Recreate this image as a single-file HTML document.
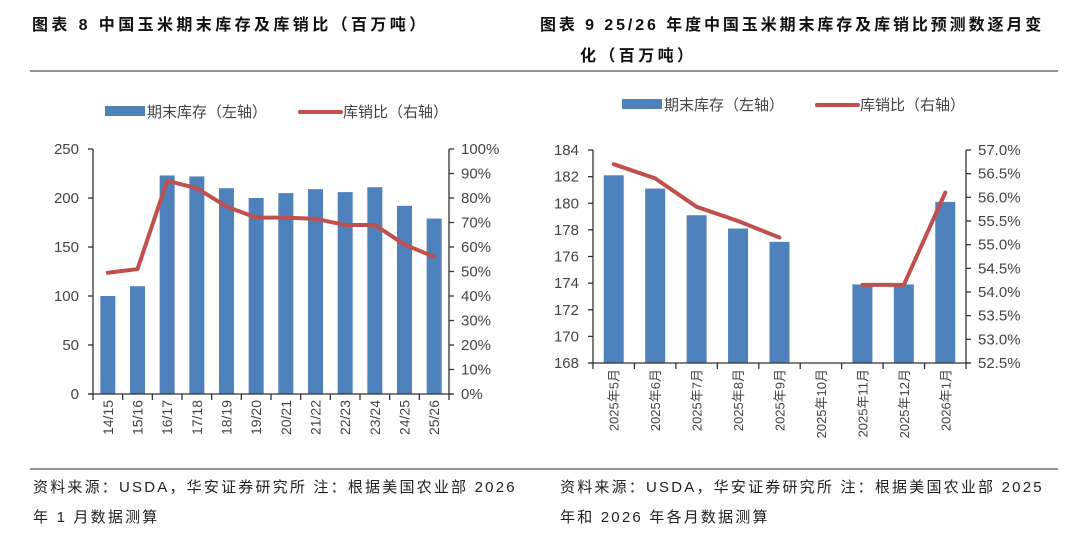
<!DOCTYPE html>
<html><head><meta charset="utf-8"><style>
body{margin:0;background:#fff;}
svg text{font-family:"Liberation Sans","Noto Sans CJK SC",sans-serif;}
</style></head><body>
<svg id="s" width="1080" height="535" xmlns="http://www.w3.org/2000/svg">
<text x="32" y="30" font-size="16" font-weight="bold" fill="#111" letter-spacing="3.4">图表 8 中国玉米期末库存及库销比（百万吨）</text>
<text x="540" y="30" font-size="16" font-weight="bold" fill="#111" letter-spacing="2.9">图表 9 25/26 年度中国玉米期末库存及库销比预测数逐月变</text>
<text x="580" y="61" font-size="16" font-weight="bold" fill="#111" letter-spacing="3.4">化（百万吨）</text>
<line x1="30" y1="71" x2="1058" y2="71" stroke="#555" stroke-width="1.2"/>
<line x1="30" y1="469" x2="1058" y2="469" stroke="#555" stroke-width="1.2"/>
<text x="33" y="492" font-size="15" fill="#222" letter-spacing="2.2">资料来源：USDA，华安证券研究所 注：根据美国农业部 2026</text>
<text x="33" y="522" font-size="15" fill="#222" letter-spacing="2.2">年 1 月数据测算</text>
<text x="560" y="492" font-size="15" fill="#222" letter-spacing="2.2">资料来源：USDA，华安证券研究所 注：根据美国农业部 2025</text>
<text x="560" y="522" font-size="15" fill="#222" letter-spacing="2.2">年和 2026 年各月数据测算</text>
<g id="L"></g><g id="R"></g>
</svg>
<script>
const leftCats=["14/15","15/16","16/17","17/18","18/19","19/20","20/21","21/22","22/23","23/24","24/25","25/26"];
const leftStock=[100,110,223,222,210,200,205,209,206,211,192,179];
const leftRatio=[49.5,51,87,84,76.5,72,72,71.5,69,69,61,56];
const leftTicks=[0,50,100,150,200,250];
const leftRTicks=[0,10,20,30,40,50,60,70,80,90,100];
const rightCats=["2025年5月","2025年6月","2025年7月","2025年8月","2025年9月","2025年10月","2025年11月","2025年12月","2026年1月"];
const rightStock=[182.1,181.1,179.1,178.1,177.1,null,173.9,173.9,180.1];
const rightRatio=[56.7,56.4,55.8,55.5,55.15,null,54.15,54.15,56.1];
const rightTicks=[168,170,172,174,176,178,180,182,184];
const rightRTicks=[52.5,53,53.5,54,54.5,55,55.5,56,56.5,57];
const NS="http://www.w3.org/2000/svg";
function mk(p,t,a){const e=document.createElementNS(NS,t);for(const k in a)e.setAttribute(k,a[k]);p.appendChild(e);return e;}
function chart(g,o){
 const {x0,x1,y0,y1,cats,stock,ratio,lmin,lmax,rmin,rmax,lt,rt,bw,fmtL,fmtR,lblFs,legY,legX}=o;
 const band=(x1-x0)/cats.length;
 const X=i=>x0+band*(i+0.5);
 const YL=v=>y0-(v-lmin)/(lmax-lmin)*(y0-y1);
 const YR=v=>y0-(v-rmin)/(rmax-rmin)*(y0-y1);
 stock.forEach((v,i)=>{if(v==null)return;
  const r=mk(g,'rect',{x:X(i)-bw/2,y:YL(v),width:bw,height:y0-YL(v),fill:'#4f81bd'});
  
  });
 let segs=[],cur=[];
 ratio.forEach((v,i)=>{if(v==null){if(cur.length)segs.push(cur);cur=[];}else cur.push(X(i)+','+YR(v));});
 if(cur.length)segs.push(cur);
 segs.forEach(s=>{const p=mk(g,'polyline',{points:s.join(' '),fill:'none',stroke:'#c0504d','stroke-width':4,'stroke-linejoin':'round','stroke-linecap':'round'});
  
  });
 const ax=mk(g,'g',{stroke:'#333','stroke-width':1.3});
 
 
 mk(ax,'line',{x1:x0,y1:y1,x2:x0,y2:y0});mk(ax,'line',{x1:x1,y1:y1,x2:x1,y2:y0});mk(ax,'line',{x1:x0-4,y1:y0,x2:x1+4,y2:y0});
 lt.forEach(v=>{mk(ax,'line',{x1:x0-5,y1:YL(v),x2:x0,y2:YL(v)});
  const t=mk(g,'text',{x:x0-14,y:YL(v)+5,'font-size':15,fill:'#444','text-anchor':'end'});t.textContent=fmtL(v);
  
  });
 rt.forEach(v=>{mk(ax,'line',{x1:x1,y1:YR(v),x2:x1+5,y2:YR(v)});
  const t=mk(g,'text',{x:x1+12,y:YR(v)+5,'font-size':15,fill:'#444'});t.textContent=fmtR(v);
  
  });
 for(let i=0;i<=cats.length;i++)mk(ax,'line',{x1:x0+band*i,y1:y0,x2:x0+band*i,y2:y0+6});
 cats.forEach((c,i)=>{const t=mk(g,'text',{transform:`translate(${X(i)+5},${y0+6}) rotate(-90)`,'font-size':lblFs,fill:'#444','text-anchor':'end'});t.textContent=c;
  
  });
 const lg=mk(g,'g',{});
 
 
 mk(lg,'rect',{x:legX,y:legY-6,width:40,height:10,fill:'#4f81bd'});
 const a=mk(lg,'text',{x:legX+42,y:legY+5,'font-size':15,fill:'#444'});a.textContent='期末库存（左轴）';
 mk(lg,'line',{x1:legX+195,y1:legY,x2:legX+236,y2:legY,stroke:'#c0504d','stroke-width':4,'stroke-linecap':'round'});
 const b=mk(lg,'text',{x:legX+238,y:legY+5,'font-size':15,fill:'#444'});b.textContent='库销比（右轴）';
}
chart(document.getElementById('L'),{x0:93,x1:449,y0:394,y1:149,cats:leftCats,stock:leftStock,ratio:leftRatio,lmin:0,lmax:250,rmin:0,rmax:100,lt:leftTicks,rt:leftRTicks,bw:15,fmtL:v=>v,fmtR:v=>v+'%',lblFs:14,legY:112,legX:105});
chart(document.getElementById('R'),{x0:593,x1:966,y0:363,y1:150,cats:rightCats,stock:rightStock,ratio:rightRatio,lmin:168,lmax:184,rmin:52.5,rmax:57,lt:rightTicks,rt:rightRTicks,bw:20,fmtL:v=>v,fmtR:v=>v.toFixed(1)+'%',lblFs:13,legY:105,legX:622});
</script>
</body></html>
